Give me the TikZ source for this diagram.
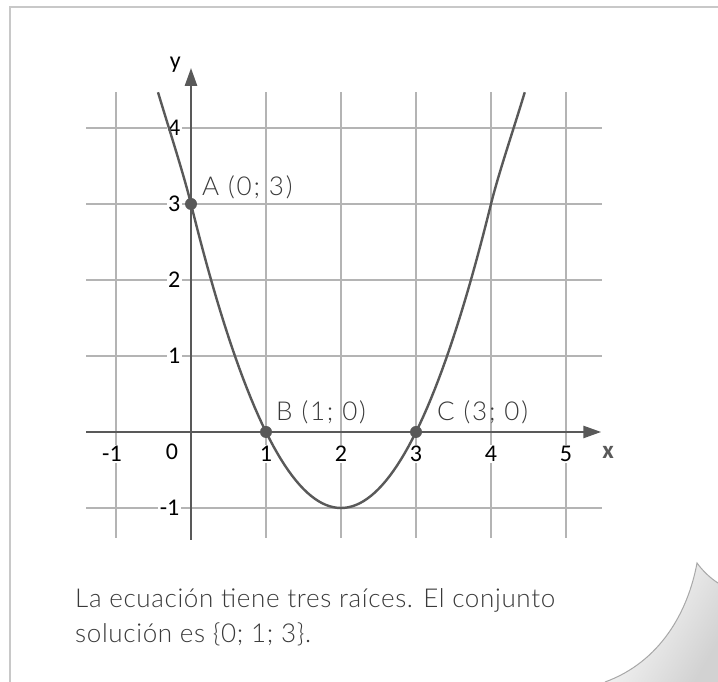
\documentclass[tikz,border=0pt]{standalone}
\usepackage{fontspec}
\setmainfont{Carlito}
\newfontfamily\hand{Lato}[UprightFont={* Light},LetterSpace=2.5]
\newfontfamily\handw{Lato}[UprightFont={* Light},LetterSpace=7]
\usetikzlibrary{arrows.meta}
\definecolor{axisgray}{HTML}{595959}
\definecolor{gridgray}{HTML}{B4B4B4}
\definecolor{framegray}{HTML}{C8C8C8}
\definecolor{textgray}{HTML}{3A3A3A}
\definecolor{curlgray}{HTML}{A8A8A8}
\begin{document}
\begin{tikzpicture}[x=1pt,y=1pt,
  gridline/.style={draw=gridgray,line width=1.5pt},
  axisline/.style={draw=axisgray,line width=2.6pt,-{Triangle[length=18pt,width=12pt]}},
  ticklabel/.style={font=\fontsize{24}{28}\selectfont,inner sep=1.5pt,fill=white,text=black},
  ptlabel/.style={font=\handw\fontsize{26}{30}\selectfont,inner sep=0pt,anchor=west,text=textgray},
  bodytext/.style={font=\hand\fontsize{26}{35}\selectfont,inner sep=0pt,anchor=base west,text=textgray},
  dot/.style={circle,fill=axisgray,minimum size=12pt,inner sep=0pt}
]
\useasboundingbox (0,0) rectangle (718,682);
\fill[white] (0,0) rectangle (718,682);
% page frame
\draw[framegray,line width=2pt] (10,0) -- (10,675) -- (718,675);
% page curl
\shade[shading=axis,left color=white,right color=gray!35,shading angle=60]
  (697,119) .. controls (688,70) and (660,20) .. (605,0) -- (718,0) -- (718,99)
  .. controls (710,104) and (702,112) .. (697,119);
\draw[curlgray,line width=1pt]
  (605,0) .. controls (660,20) and (688,70) .. (697,119)
  .. controls (702,112) and (710,104) .. (718,99);
\begin{scope}[shift={(191,250)},x=75pt,y=76pt]
  % grid
  \foreach \i in {-1,1,2,3,4,5} \draw[gridline] (\i,-1.39) -- (\i,4.47);
  \foreach \j in {-1,1,2,3,4} \draw[gridline] (-1.4,\j) -- (5.48,\j);
  % tick labels
  \foreach \j in {1,2,3,4} \node[ticklabel,anchor=east] (ly\j) at ([xshift=-9pt]0,\j) {\j};
  \node[ticklabel,anchor=east] (lym1) at ([xshift=-10pt]0,-1) {-1};
  \node[ticklabel] (l0) at ([xshift=-19pt,yshift=-20pt]0,0) {0};
  \node[ticklabel] (lxm1) at ([xshift=-4pt,yshift=-22pt]-1,0) {-1};
  \foreach \i in {1,2,3,4,5} \node[ticklabel] (lx\i) at ([yshift=-22pt]\i,0) {\i};
  % axes
  \coordinate (xs) at (-1.4,0);
  \coordinate (xe) at (5.47,0);
  \coordinate (ys) at (0,-1.42);
  \coordinate (ye) at (0,4.79);
  \draw[axisline] (xs) -- (xe);
  \draw[axisline] (ys) -- (ye);
  \node[font=\fontsize{25}{28}\selectfont\bfseries,text=axisgray] (xlab) at (5.56,-0.27) {x};
  \node[font=\fontsize{24}{28}\selectfont] (ylab) at (-0.21,4.83) {y};
  % curve
  \draw[axisgray,line width=2.4pt]
    (-0.44,4.47) .. controls (-0.3,4.01) and (-0.1,3.4) .. (0,3)
    plot[domain=0:4,samples=81] (\x,{\x*\x-4*\x+3})
    .. controls (4.1,3.4) and (4.3,3.98) .. (4.45,4.47);
  % points
  \node[dot] (A) at (0,3) {};
  \node[dot] (B) at (1,0) {};
  \node[dot] (C) at (3,0) {};
  \node[ptlabel] (Alab) at ([xshift=11pt,yshift=17pt]A.center) {A (0;\ 3)};
  \node[ptlabel] (Blab) at ([xshift=10pt,yshift=20pt]B.center) {B (1;\ 0)};
  \node[ptlabel] (Clab) at ([xshift=21pt,yshift=20pt]C.center) {C (3;\ 0)};
\end{scope}
\node[bodytext] (t1) at (75,74) {La ecuación tiene tres raíces. El conjunto};
\node[bodytext] (t2) at (75,39) {solución es \{0; 1; 3\}.};
\end{tikzpicture}
\end{document}
